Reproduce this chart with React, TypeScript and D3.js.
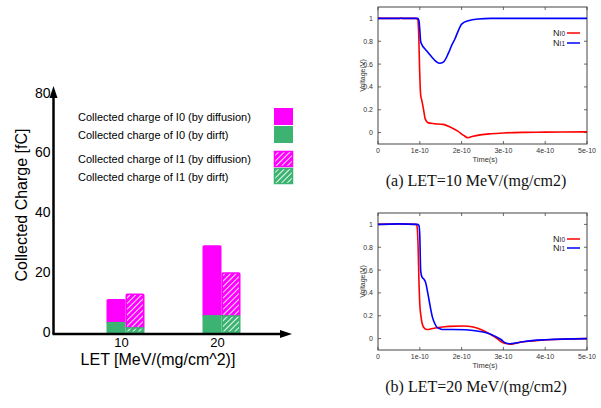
import React from "react";
import * as d3 from "d3";

// ---------- Left chart data ----------
const letCategories = ["10", "20"];
const i0Drift = [3.7, 6.0];
const i0Diffusion = [7.7, 23.4];
const i1Drift = [1.7, 5.7];
const i1Diffusion = [11.3, 14.4];
const chargeTicks = [0, 20, 40, 60, 80];
const legendLabels = [
  "Collected charge of I0 (by diffusion)",
  "Collected charge of I0 (by dirft)",
  "Collected charge of I1 (by diffusion)",
  "Collected charge of I1 (by dirft)",
];

// ---------- Right charts data (time in units of 1e-10 s) ----------
const aRedT = [0, 0.9, 0.95, 0.97, 1.0, 1.02, 1.05, 1.09, 1.13, 1.2, 1.35, 1.55, 1.75, 1.9, 2.05, 2.15, 2.25, 2.45, 2.7, 3.0, 3.5, 4.0, 5.0];
const aRedV = [1, 1, 0.99, 0.9, 0.5, 0.33, 0.28, 0.2, 0.12, 0.085, 0.078, 0.072, 0.045, 0.015, -0.025, -0.045, -0.035, -0.02, -0.01, -0.003, 0.002, 0.004, 0.006];
const aBlueT = [0, 0.5, 0.55, 0.6, 0.95, 0.98, 1.0, 1.02, 1.05, 1.13, 1.2, 1.29, 1.38, 1.47, 1.57, 1.69, 1.77, 1.84, 1.93, 2.0, 2.16, 2.4, 2.7, 5.0];
const aBlueV = [1, 1, 1.003, 1, 1, 0.98, 0.9, 0.8, 0.77, 0.73, 0.7, 0.66, 0.625, 0.607, 0.62, 0.7, 0.77, 0.82, 0.9, 0.95, 0.98, 0.995, 1, 1];
const bRedT = [0, 0.5, 0.9, 0.93, 0.96, 0.98, 1.0, 1.03, 1.09, 1.17, 1.3, 1.45, 1.7, 2.05, 2.25, 2.4, 2.55, 2.72, 2.85, 2.96, 3.08, 3.16, 3.3, 3.45, 3.7, 4.0, 4.5, 5.0];
const bRedV = [1, 1.005, 1, 0.99, 0.8, 0.5, 0.3, 0.19, 0.1, 0.08, 0.088, 0.097, 0.107, 0.11, 0.103, 0.088, 0.065, 0.03, 0.0, -0.03, -0.045, -0.05, -0.04, -0.03, -0.02, -0.012, -0.004, 0];
const bBlueT = [0, 0.5, 0.95, 0.98, 1.0, 1.02, 1.05, 1.1, 1.14, 1.18, 1.22, 1.3, 1.36, 1.41, 1.47, 1.53, 1.8, 2.1, 2.48, 2.65, 2.8, 2.95, 3.04, 3.16, 3.3, 3.5, 4.0, 5.0];
const bBlueV = [1, 1.005, 1, 0.99, 0.9, 0.6, 0.54, 0.52, 0.49, 0.42, 0.34, 0.19, 0.13, 0.1, 0.088, 0.08, 0.08, 0.078, 0.06, 0.045, 0.02, -0.01, -0.037, -0.045, -0.038, -0.025, -0.01, 0];
const timeTicks = [0, 1, 2, 3, 4, 5];
const timeTickLabels = ["0", "1e-10", "2e-10", "3e-10", "4e-10", "5e-10"];
const voltTicks = [0, 0.2, 0.4, 0.6, 0.8, 1];
const captions = ["(a) LET=10 MeV/(mg/cm2)", "(b) LET=20 MeV/(mg/cm2)"];

const PINK = "#ff00ff";
const GREEN = "#3cb371";
const SANS = "'Liberation Sans', Arial, Helvetica, sans-serif";
const SERIF = "'Liberation Serif', 'Times New Roman', serif";

function BarChart() {
  const y = d3.scaleLinear().domain([0, 80]).range([333, 94]);
  const x = d3.scalePoint().domain(letCategories).range([125.5, 221.5]);
  const bw = 19;
  const bars: React.ReactNode[] = [];
  letCategories.forEach((c, i) => {
    const cx = x(c)!;
    const i0Tot = i0Drift[i] + i0Diffusion[i];
    bars.push(
      <rect key={`i0d${i}`} x={cx - bw} width={bw} y={y(i0Tot)} height={y(i0Drift[i]) - y(i0Tot) + 2} fill={PINK} rx={1.5} />,
      <rect key={`i0g${i}`} x={cx - bw} width={bw} y={y(i0Drift[i])} height={y(0) - y(i0Drift[i])} fill={GREEN} />
    );
    const i1Tot = i1Drift[i] + i1Diffusion[i];
    bars.push(
      <rect key={`i1d${i}`} x={cx + 0.75} width={bw - 1.5} y={y(i1Tot)} height={y(i1Drift[i]) - y(i1Tot)} fill="url(#hatchPink)" stroke={PINK} strokeWidth={1.5} rx={1} />,
      <rect key={`i1g${i}`} x={cx + 0.75} width={bw - 1.5} y={y(i1Drift[i])} height={y(0) - y(i1Drift[i]) - 0.75} fill="url(#hatchGreen)" stroke={GREEN} strokeWidth={1.5} />
    );
  });
  const legendY = [117, 135, 159, 177];
  return (
    <g fontFamily={SANS}>
      <defs>
        <pattern id="hatchPink" patternUnits="userSpaceOnUse" width={4} height={4} patternTransform="rotate(45)">
          <rect width={4} height={4} fill={PINK} />
          <line x1={0} y1={0} x2={0} y2={4} stroke="#fff" strokeWidth={1.8} />
        </pattern>
        <pattern id="hatchGreen" patternUnits="userSpaceOnUse" width={4} height={4} patternTransform="rotate(45)">
          <rect width={4} height={4} fill={GREEN} />
          <line x1={0} y1={0} x2={0} y2={4} stroke="#fff" strokeWidth={1.8} />
        </pattern>
      </defs>
      {bars}
      <line x1={53.5} y1={334} x2={53.5} y2={96} stroke="#000" strokeWidth={2.5} />
      <path d="M49.5,98 L53.5,86 L57.5,98 Z" fill="#000" />
      <line x1={52.5} y1={334} x2={282} y2={334} stroke="#000" strokeWidth={2.5} />
      <path d="M280,330 L292,334 L280,338 Z" fill="#000" />
      {chargeTicks.map((t) => (
        <text key={t} x={50.5} y={y(t) - 1.5} fontSize={14} textAnchor="end" dominantBaseline="central">
          {t}
        </text>
      ))}
      {letCategories.map((c) => (
        <text key={c} x={x(c)! - 4} y={342.5} fontSize={13} textAnchor="middle" dominantBaseline="central">
          {c}
        </text>
      ))}
      <text x={158} y={359} fontSize={16} textAnchor="middle" dominantBaseline="central">
        LET [MeV/(mg/cm^2)]
      </text>
      <text transform="translate(21,205) rotate(-90)" fontSize={16} textAnchor="middle" dominantBaseline="central">
        Collected Charge [fC]
      </text>
      {legendLabels.map((l, i) => (
        <text key={l} x={78} y={legendY[i]} fontSize={11} dominantBaseline="central">
          {l}
        </text>
      ))}
      <rect x={274} y={108} width={19} height={17} fill={PINK} />
      <rect x={274} y={126} width={19} height={17} fill={GREEN} />
      <rect x={274.5} y={151.5} width={18} height={15} fill="url(#hatchPink)" stroke={PINK} strokeWidth={1.5} />
      <rect x={274.5} y={168.5} width={18} height={15} fill="url(#hatchGreen)" stroke={GREEN} strokeWidth={1.5} />
    </g>
  );
}

function VoltChart({ top, redT, redV, blueT, blueV, legendY, caption }: any) {
  const left = 378, right = 587;
  const bottom = top + 137;
  const x = d3.scaleLinear().domain([0, 5]).range([left, right]);
  const y = d3.scaleLinear().domain([-0.1, 1.1]).range([bottom, top]);
  const line = d3.line<number>().curve(d3.curveMonotoneX);
  const redPath = line.x((_, i) => x(redT[i])).y((v) => y(v))(redV);
  const bluePath = line.x((_, i) => x(blueT[i])).y((v) => y(v))(blueV);
  const axisColor = "#444";
  return (
    <g fontFamily={SANS}>
      <rect x={left} y={top} width={right - left} height={bottom - top} fill="none" stroke={axisColor} strokeWidth={1} />
      {timeTicks.map((t, i) => (
        <g key={t}>
          <line x1={x(t)} x2={x(t)} y1={bottom} y2={bottom - 3} stroke={axisColor} strokeWidth={0.8} />
          <line x1={x(t)} x2={x(t)} y1={top} y2={top + 3} stroke={axisColor} strokeWidth={0.8} />
          <text x={x(t)} y={bottom + 6} fontSize={7} fill="#333" textAnchor="middle" dominantBaseline="central">
            {timeTickLabels[i]}
          </text>
        </g>
      ))}
      {voltTicks.map((v) => (
        <g key={v}>
          <line x1={left} x2={left + 3} y1={y(v)} y2={y(v)} stroke={axisColor} strokeWidth={0.8} />
          <line x1={right} x2={right - 3} y1={y(v)} y2={y(v)} stroke={axisColor} strokeWidth={0.8} />
          <text x={left - 5} y={y(v)} fontSize={7} fill="#333" textAnchor="end" dominantBaseline="central">
            {v}
          </text>
        </g>
      ))}
      <text x={485} y={bottom + 15} fontSize={7.5} fill="#333" textAnchor="middle" dominantBaseline="central">
        Time(s)
      </text>
      <text transform={`translate(362,${(top + bottom) / 2}) rotate(-90)`} fontSize={7} fill="#333" textAnchor="middle" dominantBaseline="central">
        Voltage(V)
      </text>
      <path d={redPath!} fill="none" stroke="#ff0000" strokeWidth={1.6} />
      <path d={bluePath!} fill="none" stroke="#0000ff" strokeWidth={1.6} />
      {["0", "1"].map((s, i) => (
        <g key={s}>
          <text x={565} y={legendY[i]} fontSize={9} fill="#222" textAnchor="end" dominantBaseline="central">
            N<tspan fontSize={6.5}>I{s}</tspan>
          </text>
          <line x1={567} x2={580} y1={legendY[i]} y2={legendY[i]} stroke={i === 0 ? "#ff0000" : "#0000ff"} strokeWidth={1.5} />
        </g>
      ))}
      <text x={476} y={bottom + 36} fontFamily={SERIF} fontSize={16} fill="#111" textAnchor="middle" dominantBaseline="central">
        {caption}
      </text>
    </g>
  );
}

export default function App() {
  return (
    <svg width={601} height={408} style={{ position: "absolute", left: 0, top: 0, background: "#fff" }}>
      <rect width={601} height={408} fill="#fff" />
      <BarChart />
      <VoltChart top={7} redT={aRedT} redV={aRedV} blueT={aBlueT} blueV={aBlueV} legendY={[33, 43]} caption={captions[0]} />
      <VoltChart top={213} redT={bRedT} redV={bRedV} blueT={bBlueT} blueV={bBlueV} legendY={[239, 248]} caption={captions[1]} />
    </svg>
  );
}
